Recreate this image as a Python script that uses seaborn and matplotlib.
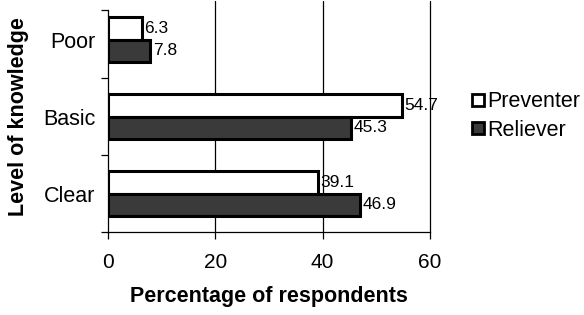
#!/usr/bin/env python3

import pandas as pd
import seaborn as sns
import matplotlib.pyplot as plt
from matplotlib.lines import Line2D

levels = ['Poor', 'Basic', 'Clear']
preventer = [6.3, 54.7, 39.1]
reliever = [7.8, 45.3, 46.9]
series = ['Preventer', 'Reliever']
colours = {'Preventer': 'white', 'Reliever': '#3a3a3a'}

df = pd.DataFrame({
    'level': levels * 2,
    'pct': preventer + reliever,
    'drug': ['Preventer'] * 3 + ['Reliever'] * 3,
})

sns.set_style('white')
plt.rcParams['font.family'] = ['Liberation Sans', 'DejaVu Sans']
plt.rcParams.update({'text.color': 'black', 'axes.labelcolor': 'black',
                     'xtick.color': 'black', 'ytick.color': 'black'})

fig = plt.figure(figsize=(5.84, 3.15), dpi=100)
ax = fig.add_axes([108/584, 1 - 232/315, (430 - 108)/584, 231/315])

sns.barplot(
    df, x='pct', y='level', hue='drug', order=levels, hue_order=series,
    palette=colours, orient='h', width=0.58, edgecolor='black',
    linewidth=2.2, ax=ax, legend=False, zorder=3,
)

for c in ax.containers:
    ax.bar_label(c, fmt='%.1f', padding=2, fontsize=12.5)

ax.set_xlim(0, 60)
ax.set_ylim(2.5, -0.5)
ax.set_xticks([0, 20, 40, 60])
for x in [20, 40, 60]:
    ax.axvline(x, color='black', linewidth=0.9, clip_on=False, zorder=1)
ax.tick_params(axis='x', direction='out', length=5, width=0.9, pad=10,
               labelsize=15, bottom=True)
ax.tick_params(axis='y', which='major', length=0, pad=9, labelsize=15.5)
ax.set_yticks([-0.38, 0.5, 1.5, 2.5], minor=True)
ax.tick_params(axis='y', which='minor', direction='out', length=5,
               width=0.9, left=True)

for s in ['top', 'right']:
    ax.spines[s].set_visible(False)
for s in ['left', 'bottom']:
    ax.spines[s].set_color('black')
    ax.spines[s].set_linewidth(0.9)
ax.spines['left'].set_bounds(-0.38, 2.5)

ax.set_xlabel('Percentage of respondents', fontsize=15.5, fontweight='bold',
              labelpad=10)
ax.set_ylabel('Level of knowledge', fontsize=15.5, fontweight='bold',
              labelpad=10)

handles = [
    Line2D([], [], marker='s', linestyle='', markersize=9,
           markerfacecolor=colours[s], markeredgecolor='black',
           markeredgewidth=2, label=s)
    for s in series
]
fig.legend(handles=handles, loc='center left', bbox_to_anchor=(461/584, 1 - 116/315),
           frameon=False, fontsize=15.5, handlelength=0.6, handletextpad=0.1,
           labelspacing=0.35, borderpad=0)

fig.savefig('out.png', dpi=100)
